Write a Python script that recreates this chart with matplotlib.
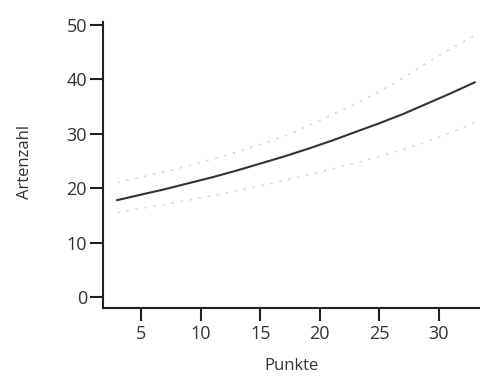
import matplotlib
matplotlib.use("Agg")
from matplotlib import pyplot as plt

# values
punkte = [3, 5, 7, 9, 11, 13, 15, 17, 19, 21, 23, 25, 27, 29, 31, 33]
artenzahl = [17.8, 18.8, 19.8, 20.9, 22.0, 23.2, 24.5, 25.8, 27.2, 28.7,
             30.3, 31.9, 33.6, 35.5, 37.4, 39.4]
upper = [21.0, 22.0, 23.0, 24.1, 25.3, 26.6, 28.0, 29.5, 31.4, 33.4,
         35.5, 37.7, 40.2, 43.0, 45.6, 48.0]
lower = [15.5, 16.3, 17.0, 17.8, 18.6, 19.5, 20.4, 21.4, 22.4, 23.5,
         24.6, 25.8, 27.1, 28.5, 30.2, 32.0]

x_ticks = [5, 10, 15, 20, 25, 30]
y_ticks = [0, 10, 20, 30, 40, 50]

plt.rcParams['font.family'] = ['Open Sans', 'DejaVu Sans']

fig = plt.figure(figsize=(4.81, 3.77), dpi=100)
ax = fig.add_axes([0.214, 0.183, 0.784, 0.759])

# confidence band, very faint dotted
ax.plot(punkte, upper, color='#d9d9d9', lw=1.2, ls=(0, (1.5, 4)))
ax.plot(punkte, lower, color='#d9d9d9', lw=1.2, ls=(0, (1.5, 4)))
# fitted curve
ax.plot(punkte, artenzahl, color='#333333', lw=1.5)

ax.set_xlim(1.8, 33.45)
ax.set_ylim(-2.0, 50.5)
ax.set_xticks(x_ticks)
ax.set_yticks(y_ticks)

for side in ['top', 'right']:
    ax.spines[side].set_visible(False)
for side in ['left', 'bottom']:
    ax.spines[side].set_linewidth(1.5)
    ax.spines[side].set_color('#222222')

ax.tick_params(axis='both', direction='out', length=9.5, width=1.5,
               color='#222222', labelcolor='#333333', labelsize=13)
ax.tick_params(axis='y', pad=2)
ax.tick_params(axis='x', pad=3)

ax.set_xlabel("Punkte", fontsize=12, color='#333333')
ax.set_ylabel("Artenzahl", fontsize=12, color='#333333')
ax.xaxis.set_label_coords(0.5, -0.175)
ax.yaxis.set_label_coords(-0.186, 0.512)

fig.savefig("out.png", dpi=100)
